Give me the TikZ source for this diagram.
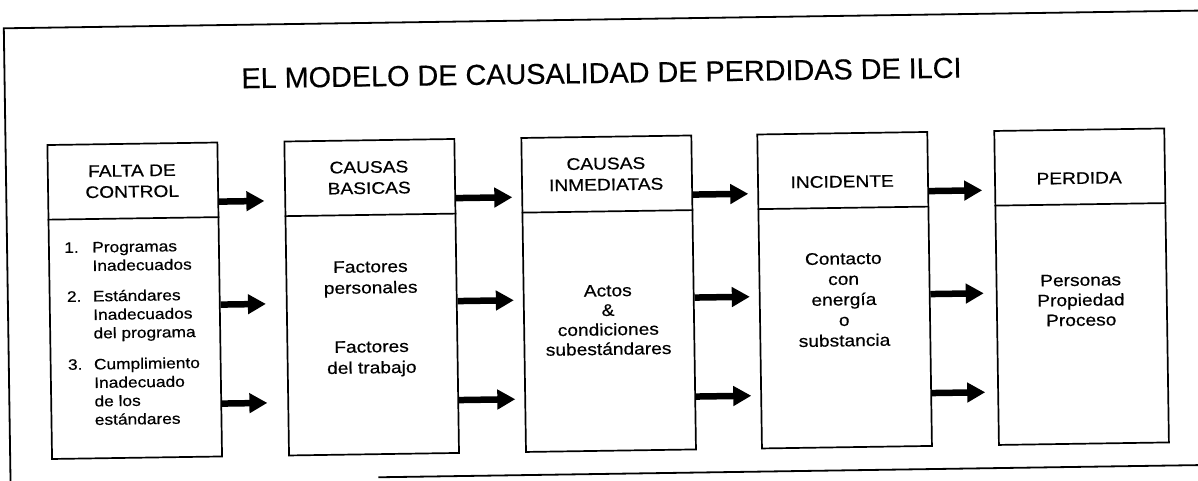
\documentclass[tikz,border=0pt]{standalone}
\usepackage{fontspec}
\setmainfont{Liberation Sans}
\newfontfamily\widefont[FakeStretch=1.14,FakeBold=0.5]{Liberation Sans}
\newfontfamily\titlefont[FakeBold=0.4]{Liberation Sans}
\usetikzlibrary{arrows.meta}
\tikzset{
 boxnode/.style={draw=black, line width=1.7pt, minimum width=170pt, minimum height=314pt, anchor=north west, inner sep=0pt},
 divline/.style={line width=1.7pt},
 framel/.style={line width=1.8pt},
 hdr/.style={font=\widefont\fontsize{16.8}{21}\selectfont, align=center, anchor=base, inner sep=0pt},
 bodytxt/.style={font=\widefont\fontsize{16.8}{#1}\selectfont, align=center, anchor=base, inner sep=0pt},
 bodytxt/.default=21,
 lst/.style={font=\widefont\fontsize{15.2}{18.5}\selectfont, align=left, anchor=base west, inner sep=0pt},
 bigarrow/.style={line width=6.5pt, -{Triangle[length=18pt,width=19pt]}},
 titlet/.style={font=\titlefont\fontsize{28.8}{34}\selectfont, anchor=base, inner sep=0pt}
}
\begin{document}
\begin{tikzpicture}[x=1pt,y=-1pt]
\useasboundingbox (0,0) rectangle (1198,481);
\clip (0,0) rectangle (1198,481);
\begin{scope}[rotate around={0.85:(599,240)}, transform shape]
 % frame
 \coordinate (fa) at (7,19.5); \coordinate (fb) at (1215,19.5); \coordinate (fc) at (7,500);
 \coordinate (fd) at (375,474); \coordinate (fe) at (1215,474);
 \draw[framel] (fc) -- (fa) -- (fb);
 \draw[framel] (fd) -- (fe);
 % title
 \node[titlet] (title) at (604,83) {EL MODELO DE CAUSALIDAD DE PERDIDAS DE ILCI};
 % boxes
 \coordinate (dv) at (0,211.5);
 \node[boxnode] (b1) at (48,136) {};
 \node[boxnode] (b2) at (285,136) {};
 \node[boxnode] (b3) at (522,136) {};
 \node[boxnode] (b4) at (758,136) {};
 \node[boxnode] (b5) at (995,136) {};
 \foreach \b in {b1,b2,b3,b4,b5}{
   \draw[divline] (\b.west |- dv) -- (\b.east |- dv);
 }
 % headers (anchor = baseline of last line)
 \node[hdr] (h1) at (133,190.5) {FALTA DE\\CONTROL};
 \node[hdr] (h2) at (370,190.5) {CAUSAS\\BASICAS};
 \node[hdr] (h3) at (607,190.5) {CAUSAS\\INMEDIATAS};
 \node[hdr] (h4) at (843,191) {INCIDENTE};
 \node[hdr] (h5) at (1080,191) {PERDIDA};
 % box 1 list
 \node[lst] (n1) at (64,245) {1.};
 \node[lst] (t1) at (92,263.5) {Programas\\Inadecuados};
 \node[lst] (n2) at (66,294) {2.};
 \node[lst] (t2) at (92,331) {Estándares\\Inadecuados\\del programa};
 \node[lst] (n3) at (66,362) {3.};
 \node[lst] (t3) at (92,417.5) {Cumplimiento\\Inadecuado\\de los\\estándares};
 % bodies
 \node[bodytxt] (c2a) at (370,290) {Factores\\personales};
 \node[bodytxt] (c2b) at (370,370) {Factores\\del trabajo};
 \node[bodytxt=19.5] (c3) at (607,355) {Actos\\\&\\condiciones\\subestándares};
 \node[bodytxt=20.5] (c4) at (843,350) {Contacto\\con\\energía\\o\\substancia};
 \node[bodytxt=20] (c5) at (1080,333) {Personas\\Propiedad\\Proceso};
 % arrows
 \coordinate (r1) at (0,196); \coordinate (r2) at (0,299); \coordinate (r3) at (0,398);
 \foreach \r in {r1,r2,r3}{
   \draw[bigarrow, shorten >=20pt] (b1.east |- \r) -- (b2.west |- \r);
   \draw[bigarrow, shorten >=9pt] (b2.east |- \r) -- (b3.west |- \r);
   \draw[bigarrow, shorten >=9pt] (b3.east |- \r) -- (b4.west |- \r);
   \draw[bigarrow, shorten >=12pt] (b4.east |- \r) -- (b5.west |- \r);
 }
\end{scope}
\end{tikzpicture}
\end{document}
